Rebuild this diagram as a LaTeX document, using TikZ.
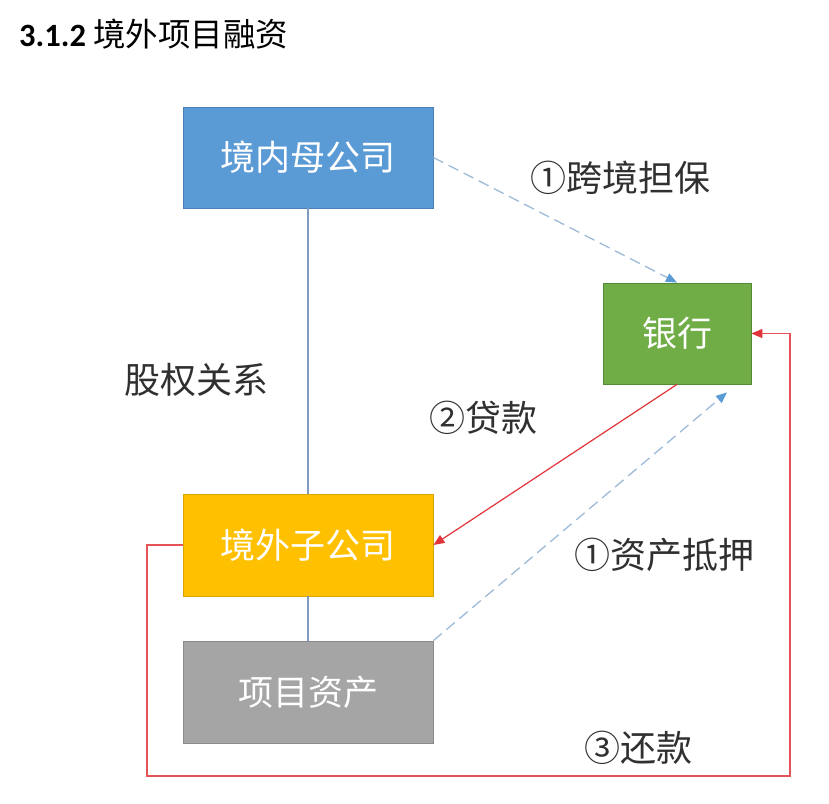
\documentclass[tikz,border=0pt]{standalone}
\usepackage{fontspec}
\setmainfont{Carlito}
\newfontfamily\cjk{Noto Sans CJK SC}
\usetikzlibrary{arrows.meta,calc}
\definecolor{boxblue}{HTML}{5B9BD5}
\definecolor{boxblueedge}{HTML}{4A80B5}
\definecolor{boxgreen}{HTML}{70AD47}
\definecolor{boxgreenedge}{HTML}{558A35}
\definecolor{boxyellow}{HTML}{FFC000}
\definecolor{boxyellowedge}{HTML}{D9A300}
\definecolor{boxgray}{HTML}{A5A5A5}
\definecolor{boxgrayedge}{HTML}{8A8A8A}
\definecolor{dashblue}{HTML}{9DBBD8}
\definecolor{tipblue}{HTML}{5B9BD5}
\definecolor{relline}{HTML}{7F9CC0}
\definecolor{loanred}{HTML}{E0343A}
\definecolor{labelgray}{HTML}{303030}
\begin{document}
\begin{tikzpicture}[x=1pt,y=-1pt,
  entity/.style={rectangle, inner sep=0pt, line width=0.8pt, font=\cjk\fontsize{35}{40}\selectfont, text=white},
  lbl/.style={inner sep=0pt, font=\cjk\fontsize{36}{40}\selectfont, text=labelgray},
  rel/.style={draw=relline, line width=1.1pt},
  dasharrow/.style={draw=dashblue, line width=1.3pt, dash pattern=on 11pt off 6pt,
     -{Triangle[length=11pt,width=9pt,color=tipblue,fill=tipblue]}},
  redarrow/.style={draw=loanred, line width=1.2pt, -{Triangle[length=11pt,width=9pt,color=loanred,fill=loanred]}},
]
\useasboundingbox[fill=white] (0,0) rectangle (829,803);
% title
\node[anchor=west, inner sep=0pt] (title) at (19,34)
  {\fontsize{32.5}{38}\selectfont\bfseries 3.1.2 {\mdseries\cjk 境外项目融资}};
% boxes
\node[entity, fill=boxblue, draw=boxblueedge, minimum width=250pt, minimum height=101pt] (parent) at (308,157.5) {境内母公司};
\node[entity, fill=boxgreen, draw=boxgreenedge, minimum width=148pt, minimum height=101pt] (bank) at (677,333.5) {银行};
\node[entity, fill=boxyellow, draw=boxyellowedge, minimum width=250pt, minimum height=102pt] (sub) at (308,545) {境外子公司};
\node[entity, fill=boxgray, draw=boxgrayedge, minimum width=250pt, minimum height=102pt] (asset) at (308,692) {项目资产};
% labels
\node[lbl] (lguar) at (620,178) {①跨境担保};
\node[lbl] (lequity) at (196,380) {股权关系};
\node[lbl] (lloan) at (483,418) {②贷款};
\node[lbl] (lmort) at (664,555) {①资产抵押};
\node[lbl] (lrepay) at (638,748) {③还款};
% connectors
\draw[rel] (parent.south) -- (sub.north);
\draw[rel] (sub.south) -- (asset.north);
\draw[dasharrow] (parent.east) -- (bank.north);
\draw[redarrow] (bank.south) -- (sub.east);
\coordinate (mortend) at ($(bank.south)+(50,8)$);
\draw[dasharrow] (asset.north east) -- (mortend);
\coordinate (loopbl) at (147,776);
\coordinate (loopbr) at (790,776);
\draw[redarrow, draw=loanred!85!white] (sub.west) -| (loopbl) -- (loopbr) |- (bank.east);
\end{tikzpicture}
\end{document}
